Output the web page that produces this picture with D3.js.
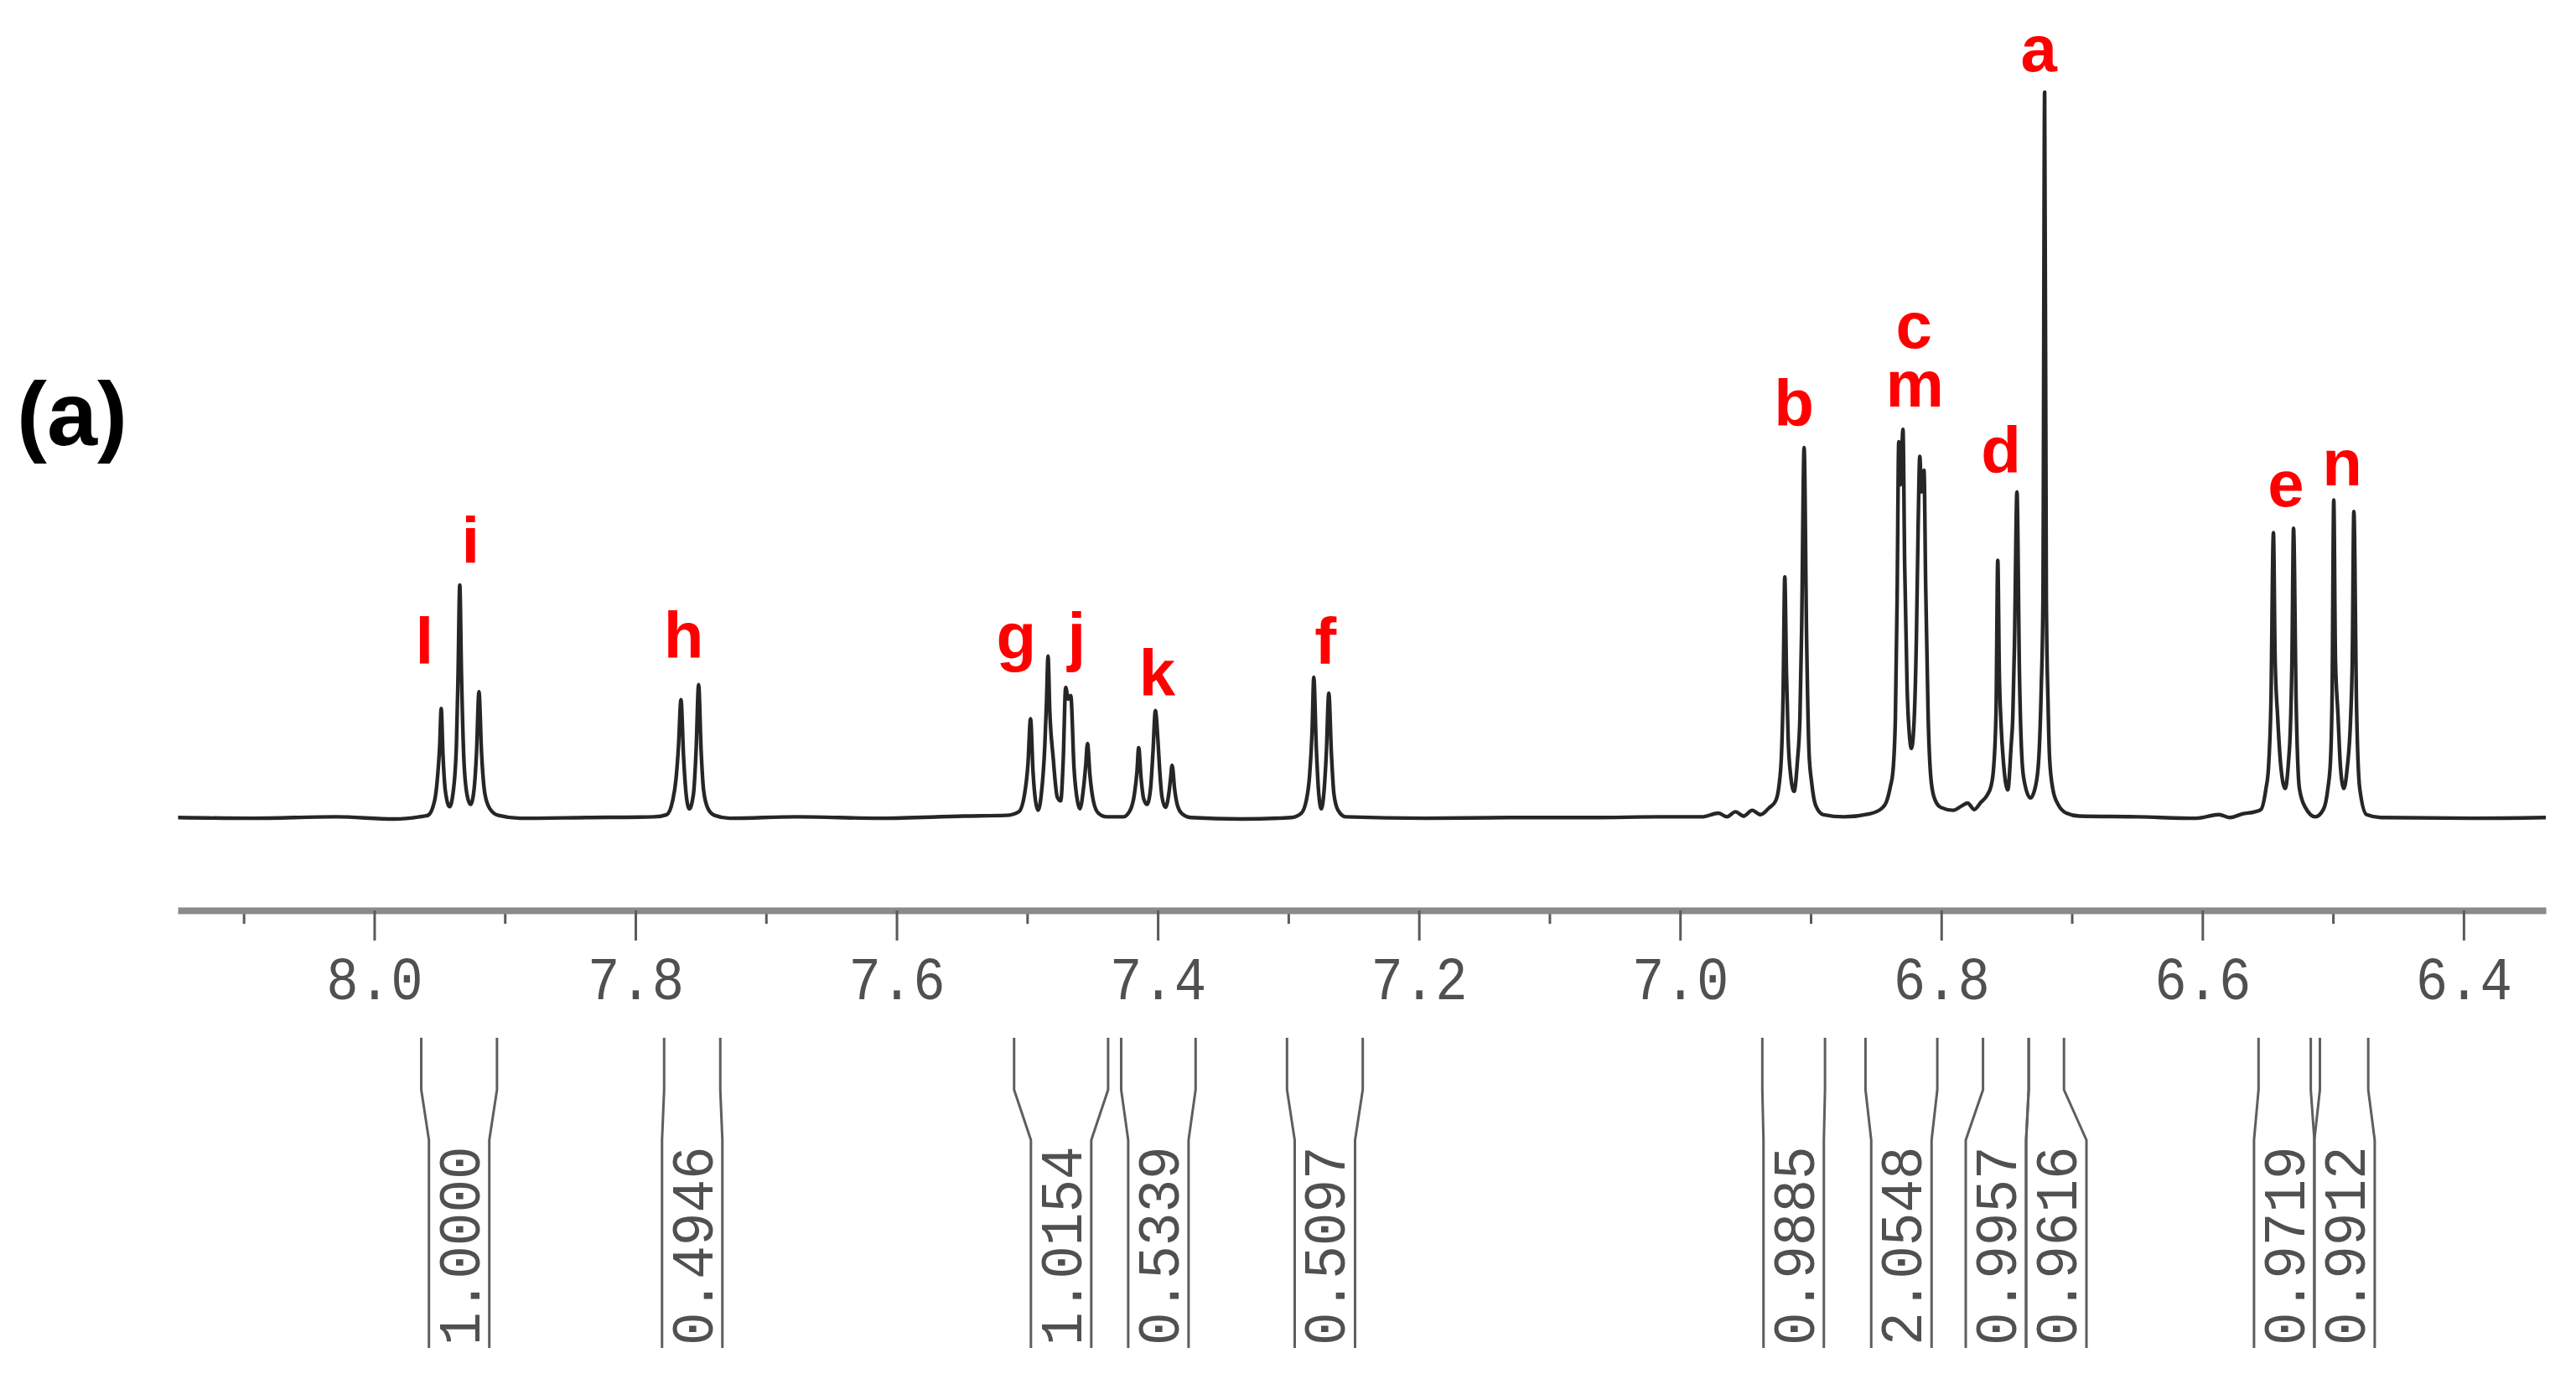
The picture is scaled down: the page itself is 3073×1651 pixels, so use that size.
<!DOCTYPE html>
<html><head><meta charset="utf-8">
<script src="https://cdn.jsdelivr.net/npm/d3@7"></script>
<style>html,body{margin:0;padding:0;background:#fff;} svg{display:block;}</style>
</head><body>
<svg id="chart" width="3073" height="1651"></svg>
<script>
// ---- data (ppm, relative intensity; peak "a" = 100) ----
const specPpm = [
8.1502,8.0937,8.0295,7.9846,7.9653,7.9589,7.9538,7.9512,7.9499,7.9487,7.9474,7.9455,7.9423,7.9397,7.9371,7.9358,7.9345,7.9332,7.9313,7.9288,7.9262,7.9236,7.9217,7.9198,7.9178,7.9153,7.9114,7.9050,7.8883,7.8370,
7.7856,7.7760,7.7715,7.7689,7.7670,7.7651,7.7631,7.7612,7.7587,7.7555,7.7535,7.7516,7.7497,7.7478,7.7446,7.7394,7.7279,7.6765,7.6123,7.5481,
7.5160,7.5064,7.5019,7.4994,7.4974,7.4955,7.4936,7.4917,7.4891,7.4865,7.4852,7.4840,7.4827,7.4801,7.4769,7.4743,7.4724,7.4705,7.4685,7.4666,
7.4641,7.4615,7.4596,7.4570,7.4551,7.4538,7.4519,7.4493,7.4454,7.4390,7.4262,7.4211,7.4178,7.4159,7.4146,7.4127,7.4108,7.4082,7.4056,7.4037,
7.4018,7.3999,7.3986,7.3967,7.3941,7.3915,7.3902,7.3890,7.3870,7.3851,7.3813,7.3748,7.3363,7.2978,7.2901,7.2863,7.2837,7.2818,7.2805,7.2786,
7.2767,7.2747,7.2728,7.2709,7.2690,7.2670,7.2651,7.2619,7.2561,7.1951,7.1309,7.0668,7.0154,6.9833,6.9705,6.9641,6.9576,6.9512,6.9448,6.9384,
6.9320,6.9268,6.9243,6.9223,6.9211,6.9198,6.9185,6.9172,6.9153,6.9127,6.9101,6.9082,6.9069,6.9050,6.9031,6.9012,6.8992,6.8960,6.8903,6.8742,
6.8549,6.8453,6.8421,6.8389,6.8370,6.8351,6.8338,6.8325,6.8312,6.8293,6.8280,6.8261,6.8241,6.8228,6.8209,6.8190,6.8177,6.8164,6.8151,6.8132,
6.8119,6.8100,6.8081,6.8055,6.8004,6.7908,6.7843,6.7798,6.7747,6.7696,6.7651,6.7619,6.7599,6.7580,6.7567,6.7555,6.7542,6.7522,6.7490,6.7465,
6.7452,6.7439,6.7420,6.7401,6.7381,6.7362,6.7317,6.7278,6.7253,6.7234,6.7221,6.7208,6.7195,6.7182,6.7170,6.7144,6.7105,6.7041,6.6945,6.6496,
6.6046,6.5873,6.5790,6.5693,6.5597,6.5552,6.5513,6.5494,6.5475,6.5456,6.5443,6.5424,6.5398,6.5366,6.5340,6.5327,6.5314,6.5302,6.5282,6.5257,
6.5212,6.5135,6.5071,6.5039,6.5019,6.5006,6.4994,6.4981,6.4962,6.4942,6.4917,6.4891,6.4865,6.4852,6.4840,6.4820,6.4795,6.4743,6.4634,6.3928,
6.3370];
const specInt = [
0.2,0.1,0.3,0.0,0.3,0.5,2.5,6.5,10,15.2,9,3.8,1.7,3.5,10,20,32.2,20,8,3.2,2.0,4,9,17.5,9,3.5,1.4,0.5,0.1,0.2,
0.3,0.6,2.5,5.5,10,16.4,8.5,3.5,1.4,3.5,9.5,18.5,9.5,4,1.5,0.5,0.1,0.3,0.1,0.4,
0.5,1.0,3.5,7.5,13.8,6.5,2.5,1.2,3.5,10,16,22.4,15,8.5,3.0,2.5,8,18.1,16.5,17.0,
7,2.5,1.4,4,7.5,10.4,6,2.5,0.8,0.3,0.3,1.2,3.5,6.5,9.8,5.5,2.8,2.0,4,9,
14.9,11,7,3,1.6,3.5,5.5,7.4,4,2,0.7,0.2,0.0,0.2,0.8,2.5,6,12,19.5,10,
3.5,1.4,3.5,9,17.3,9,3.5,1.2,0.3,0.1,0.2,0.2,0.3,0.3,0.8,0.3,1.0,0.4,1.2,0.6,
1.5,2.5,4.5,9,17,33.3,20,11,6,3.8,8,14,26,51.1,25,9,5,1.8,0.6,0.3,
0.7,1.5,2.3,4.5,6.5,14,30,51.9,46,53.6,35,18,11,9.7,13,25,40,49.9,45,48,
32,14,6,3.0,1.6,1.2,1.8,2.2,1.3,2.3,3.2,4.5,7,15,35.6,20,13.1,7.5,4.0,10,
14,24,45.0,20,8,5,2.9,4.5,8.3,18,30,100,30,16,8.3,4,2,0.8,0.4,0.3,
0.1,0.6,0.2,0.7,1.0,1.3,4.2,7,16,39.4,22,14.2,7,4.2,8,12.0,22,40.0,16,4.2,
1.6,0.3,1.4,4.2,8,18,43.9,22,14.5,7,4.2,7,13.8,22,42.3,16,4.2,0.6,0.2,0.1,
0.2];

const tickMajor = [8.0, 7.8, 7.6, 7.4, 7.2, 7.0, 6.8, 6.6, 6.4];
const tickMinor = [8.1, 7.9, 7.7, 7.5, 7.3, 7.1, 6.9, 6.7, 6.5];

const peakLabels   = ["l","i","h","g","j","k","f","b","c","m","d","a","e","n"];
const peakLabelPpm = [7.9615,7.9262,7.7631,7.5083,7.4621,7.4005,7.2715,6.9127,6.8209,6.8203,6.7542,6.7253,6.5360,6.4929];
const peakLabelInt = [21.3,35.2,22.1,22.0,22.0,17.0,21.3,54.1,64.8,56.7,47.6,102.9,43.0,45.9];

const intStart  = [7.964,7.778,7.510,7.428,7.301,6.937,6.858,6.768,6.733,6.557,6.510];
const intEnd    = [7.906,7.735,7.438,7.371,7.243,6.889,6.803,6.733,6.706,6.517,6.473];
const intValues = ["1.0000","0.4946","1.0154","0.5339","0.5097","0.9885","2.0548","0.9957","0.9616","0.9719","0.9912"];

const panelLabel = "(a)";

// ---- drawing ----
const svg = d3.select("#chart");
svg.append("rect").attr("width", 3073).attr("height", 1651).attr("fill", "#fff");

const x = d3.scaleLinear().domain([8.1505, 6.337]).range([212, 3037]);
const y = d3.scaleLinear().domain([0, 100]).range([977, 110]);

// spectrum trace
const line = d3.line().x(d => x(d[0])).y(d => y(d[1])).curve(d3.curveMonotoneX);
svg.append("path")
  .datum(specPpm.map((p, i) => [p, specInt[i]]))
  .attr("d", line)
  .attr("fill", "none")
  .attr("stroke", "#262626")
  .attr("stroke-width", 4.4)
  .attr("stroke-linejoin", "round");

// axis
const axisY = 1086;
const monoFont = "'Liberation Mono', 'DejaVu Sans Mono', monospace";
const gMinor = svg.append("g").attr("transform", `translate(0,${axisY})`)
  .call(d3.axisBottom(x).tickValues(tickMinor).tickSize(16).tickSizeOuter(0).tickFormat(""));
gMinor.select(".domain").remove();
gMinor.selectAll(".tick line").attr("stroke", "#5a5a5a").attr("stroke-width", 3);

const gMajor = svg.append("g").attr("transform", `translate(0,${axisY})`)
  .call(d3.axisBottom(x).tickValues(tickMajor).tickSize(36).tickSizeOuter(0).tickFormat(d3.format(".1f")));
gMajor.select(".domain").attr("stroke", "#8a8a8a").attr("stroke-width", 8);
gMajor.selectAll(".tick line").attr("stroke", "#5a5a5a").attr("stroke-width", 3);
gMajor.selectAll(".tick text")
  .attr("y", 106 / 1.12).attr("dy", null)
  .attr("transform", "scale(1,1.12)")
  .attr("font-family", monoFont)
  .attr("font-size", 64)
  .attr("fill", "#505050");

// integrals
const topY = 1238, bendY1 = 1300, bendY2 = 1360, botY = 1608, boxW = 72;
const boxes = intStart.map((s, i) => {
  const xl = x(s), xr = x(intEnd[i]);
  return { xl, xr, c: (xl + xr) / 2 };
});
for (let i = 0; i < boxes.length - 1; i++) {
  const a = boxes[i], b = boxes[i + 1];
  const overlap = (a.c + boxW / 2) - (b.c - boxW / 2);
  if (overlap > 0) { a.c -= overlap / 2; b.c += overlap / 2; }
}
const gInt = svg.append("g");
boxes.forEach((b, i) => {
  const bl = b.c - boxW / 2, br = b.c + boxW / 2;
  const d = `M${b.xl},${topY}V${bendY1}L${bl},${bendY2}V${botY}` +
            `M${b.xr},${topY}V${bendY1}L${br},${bendY2}V${botY}`;
  gInt.append("path").attr("d", d).attr("fill", "none")
    .attr("stroke", "#5e5e5e").attr("stroke-width", 3);
  gInt.append("text")
    .attr("transform", `translate(${b.c + 24},${botY - 3}) rotate(-90) scale(1,1.08)`)
    .attr("font-family", monoFont)
    .attr("font-size", 66)
    .attr("fill", "#505050")
    .text(intValues[i]);
});

// peak labels
svg.append("g").selectAll("text").data(peakLabels).join("text")
  .attr("x", (d, i) => x(peakLabelPpm[i]))
  .attr("y", (d, i) => y(peakLabelInt[i]))
  .attr("text-anchor", "middle")
  .attr("font-family", "'Liberation Sans', Arial, sans-serif")
  .attr("font-weight", "bold")
  .attr("font-size", 78)
  .attr("fill", "#ff0000")
  .text(d => d);

// panel label
svg.append("text")
  .attr("x", 20).attr("y", 531)
  .attr("font-family", "'Liberation Sans', Arial, sans-serif")
  .attr("font-weight", "bold")
  .attr("font-size", 108)
  .attr("fill", "#000")
  .text(panelLabel);
</script>
</body></html>
